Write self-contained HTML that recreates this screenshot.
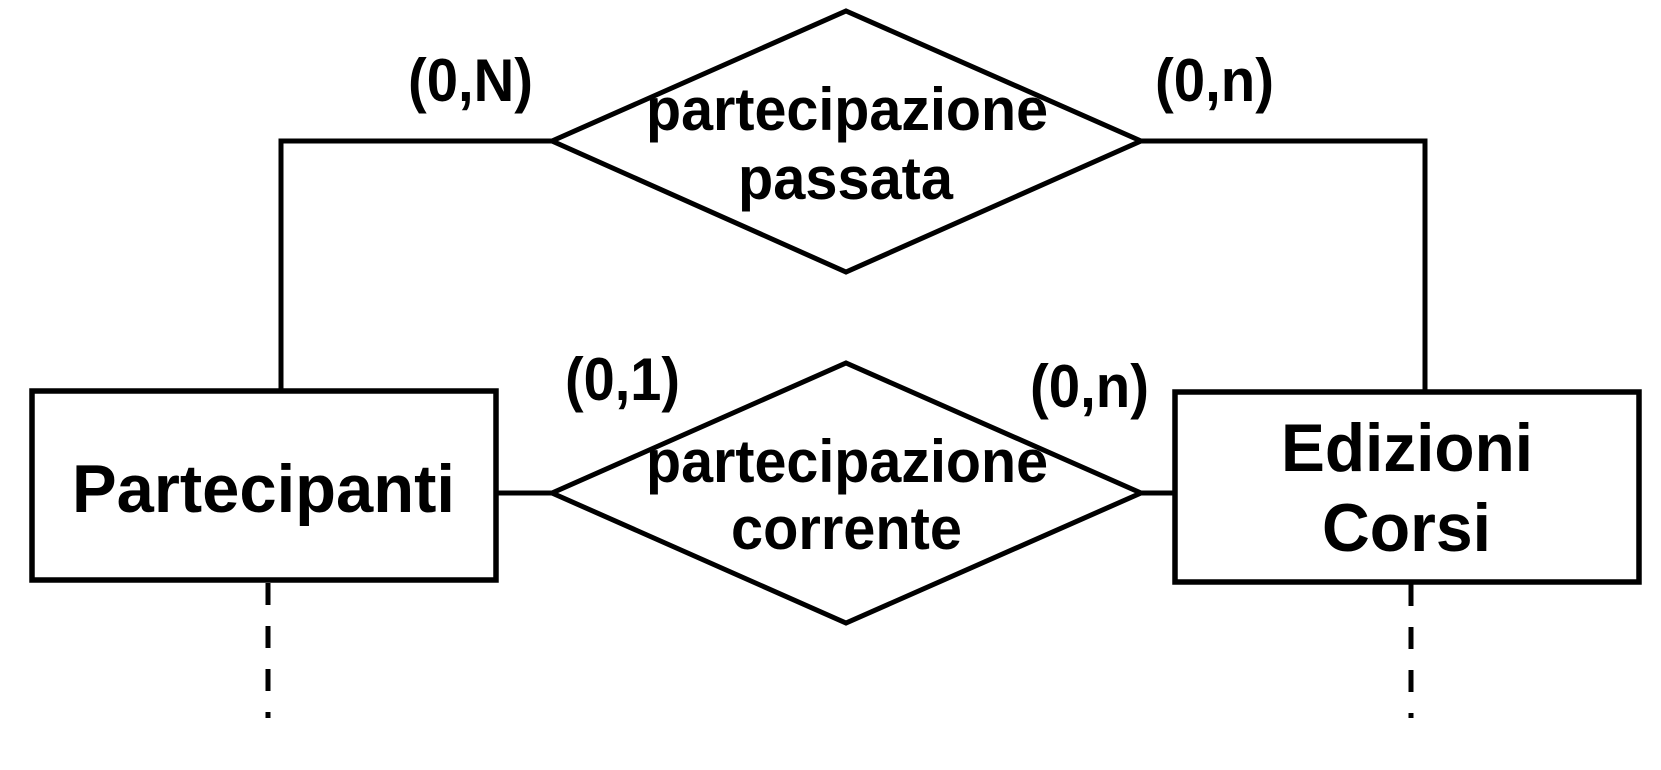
<!DOCTYPE html>
<html><head><meta charset="utf-8"><style>html,body{margin:0;padding:0;background:#fff}svg{display:block}</style></head>
<body>
<svg width="1661" height="770" viewBox="0 0 1661 770" xmlns="http://www.w3.org/2000/svg" font-family="Liberation Sans, Arial, sans-serif" font-weight="bold">
<g fill="none" stroke="#000" stroke-width="5">
<polygon points="552,141 846,11 1141,141 846,272"/>
<polygon points="552,493 846,363 1141,493 846,623"/>
<polyline points="281,391 281,141 552,141"/>
<polyline points="1141,141 1425,141 1425,392"/>
<line x1="496" y1="493" x2="552" y2="493"/>
<line x1="1141" y1="493" x2="1175" y2="493"/>
<rect x="32" y="391" width="464" height="189" stroke-width="5.5"/>
<rect x="1175" y="392" width="464" height="190" stroke-width="5.5"/>
<line x1="268" y1="583" x2="268" y2="718" stroke-dasharray="22,21" stroke-width="5"/>
<line x1="1411" y1="584" x2="1411" y2="718" stroke-dasharray="22,21" stroke-width="5"/>
</g>
<g fill="#000">
<text x="72" y="512" font-size="68" textLength="383" lengthAdjust="spacingAndGlyphs">Partecipanti</text>
<text x="1281" y="471" font-size="68" textLength="252" lengthAdjust="spacingAndGlyphs">Edizioni</text>
<text x="1322" y="551" font-size="68" textLength="169" lengthAdjust="spacingAndGlyphs">Corsi</text>
<text x="646" y="130" font-size="60" textLength="402" lengthAdjust="spacingAndGlyphs">partecipazione</text>
<text x="738" y="199" font-size="60" textLength="215" lengthAdjust="spacingAndGlyphs">passata</text>
<text x="646" y="482" font-size="60" textLength="402" lengthAdjust="spacingAndGlyphs">partecipazione</text>
<text x="731" y="549" font-size="60" textLength="231" lengthAdjust="spacingAndGlyphs">corrente</text>
<text x="408" y="101" font-size="60" textLength="125" lengthAdjust="spacingAndGlyphs">(0,N)</text>
<text x="1155" y="101" font-size="60" textLength="119" lengthAdjust="spacingAndGlyphs">(0,n)</text>
<text x="565" y="400" font-size="60" textLength="115" lengthAdjust="spacingAndGlyphs">(0,1)</text>
<text x="1030" y="407" font-size="60" textLength="119" lengthAdjust="spacingAndGlyphs">(0,n)</text>
</g>
</svg>
</body></html>
